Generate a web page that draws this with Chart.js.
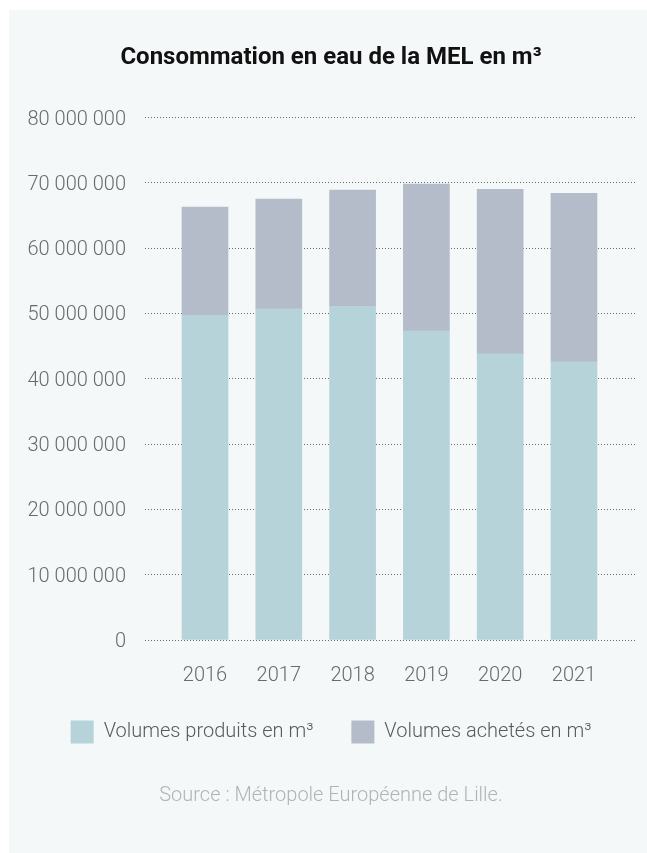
<!DOCTYPE html>
<html lang="fr">
<head>
<meta charset="utf-8">
<title>Consommation en eau de la MEL</title>
<script src="https://cdn.jsdelivr.net/npm/chart.js@4/dist/chart.umd.min.js"></script>
<style>
  html, body { margin: 0; padding: 0; background: #ffffff; }
  #panel {
    position: absolute; left: 9px; top: 10px;
    width: 638px; height: 843px;
    background: #f4f8f9;
  }
  #chart { display: block; }
</style>
</head>
<body>
<div id="panel"><canvas id="chart" width="638" height="843"></canvas></div>
<script>
// Years on the horizontal axis
const years = ['2016', '2017', '2018', '2019', '2020', '2021'];
// Water produced by the MEL, m³
const produced = [49700000, 50700000, 51100000, 47300000, 43800000, 42600000];
// Water bought from outside suppliers, m³
const purchased = [16600000, 16800000, 17800000, 22500000, 25200000, 25800000];
// Value axis ticks
const yTicks = [0, 10000000, 20000000, 30000000, 40000000, 50000000, 60000000, 70000000, 80000000];

const titleText = 'Consommation en eau de la MEL en m³';
const seriesLabels = ['Volumes produits en m³', 'Volumes achetés en m³'];
const sourceText = 'Source : Métropole Européenne de Lille.';

const fmt = v => String(Math.round(v)).replace(/\B(?=(\d{3})+(?!\d))/g, ' ');
const toPoints = arr => arr.map((v, i) => ({ x: i, y: v }));

Chart.defaults.font.family = 'Roboto, "Open Sans", sans-serif';

new Chart(document.getElementById('chart'), {
  type: 'bar',
  data: {
    datasets: [
      {
        label: seriesLabels[0],
        data: toPoints(produced),
        backgroundColor: '#b5d3d8',
        barThickness: 46
      },
      {
        label: seriesLabels[1],
        data: toPoints(purchased),
        backgroundColor: '#b3bcc8',
        barThickness: 46
      }
    ]
  },
  options: {
    responsive: false,
    animation: false,
    events: [],
    layout: { padding: { top: 33.6, right: 12, bottom: 45, left: 18 } },
    scales: {
      x: {
        type: 'linear',
        stacked: true,
        offset: false,
        min: -0.813,
        max: 5.827,
        grid: { display: false, drawTicks: false, offset: false },
        border: { display: false },
        ticks: {
          stepSize: 1,
          includeBounds: false,
          padding: 24,
          color: '#6a6a6a',
          font: { size: 20, weight: 300 },
          callback: v => (Number.isInteger(v) && years[v] !== undefined) ? years[v] : ''
        },
        afterFit: s => { s.height = 42.5; }
      },
      y: {
        stacked: true,
        min: yTicks[0],
        max: yTicks[yTicks.length - 1],
        afterBuildTicks: s => { s.ticks = yTicks.map(v => ({ value: v })); },
        grid: { color: '#6b6b6b', lineWidth: 1, drawTicks: false },
        border: { display: false, dash: [1, 2] },
        ticks: {
          padding: 19,
          labelOffset: 2,
          color: '#6a6a6a',
          font: { size: 20, weight: 300 },
          callback: v => fmt(v)
        },
        afterFit: s => { s.width = 118; }
      }
    },
    plugins: {
      tooltip: { enabled: false },
      title: {
        display: true,
        text: titleText,
        color: '#111111',
        font: { size: 24, weight: 'bold', lineHeight: 1.2 },
        padding: { top: 0, bottom: 45.1 }
      },
      legend: {
        display: true,
        position: 'bottom',
        labels: {
          boxWidth: 23,
          boxHeight: 23,
          padding: 38,
          color: '#5a5a5a',
          font: { size: 20, weight: 300 }
        }
      },
      subtitle: {
        display: true,
        position: 'bottom',
        text: sourceText,
        color: '#b3b3b3',
        font: { size: 20, weight: 300, lineHeight: 1.2 },
        padding: { top: 30.5, bottom: 0 }
      }
    }
  }
});
</script>
</body>
</html>
